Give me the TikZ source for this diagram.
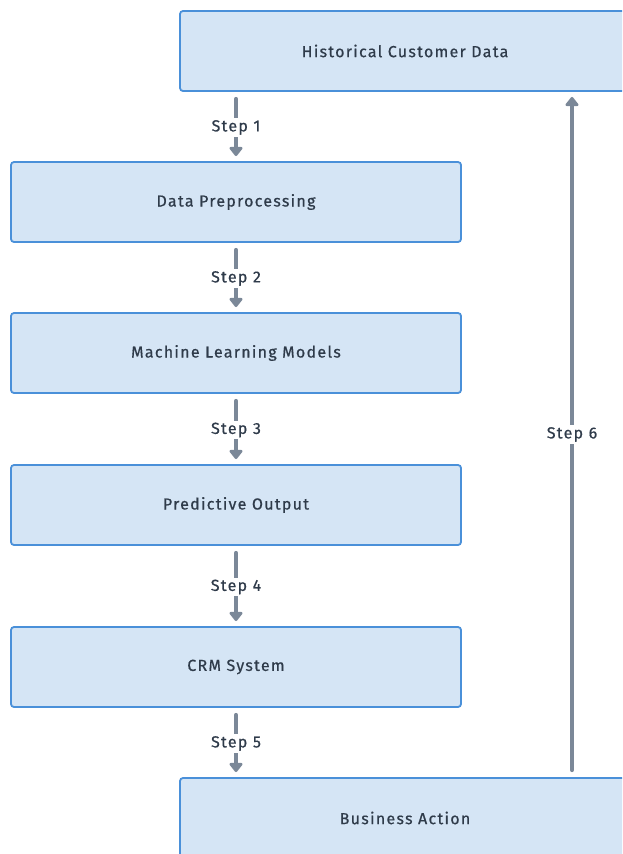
\documentclass[tikz,border=0pt]{standalone}
\usepackage{fontspec}
\setmainfont{Fira Sans}[LetterSpace=8,FakeBold=0.6]
\usetikzlibrary{arrows.meta,calc}
\definecolor{boxfill}{HTML}{D5E5F5}
\definecolor{boxline}{HTML}{4A90D9}
\definecolor{flow}{HTML}{7B8898}
\definecolor{ink}{HTML}{2F3B4A}
\begin{document}
\begin{tikzpicture}[x=1pt,y=-1pt,
  stage/.style={draw=boxline,fill=boxfill,line width=1.8pt,rounded corners=3pt,
    minimum width=450pt,minimum height=80pt,inner sep=0pt,
    font=\fontsize{16}{18}\selectfont,text=ink},
  flowline/.style={draw=flow,line width=4pt,line cap=round,
    -{Triangle[width=15pt,length=10pt,round]}},
  steplabel/.style={fill=white,inner sep=2pt,font=\fontsize{16}{18}\selectfont,text=ink}]
\useasboundingbox (0,0) rectangle (622,854);
\clip (0,0) rectangle (622,854);
\node[stage] (hist) at (405,51) {Historical Customer Data};
\node[stage] (prep) at (236,202) {Data Preprocessing};
\node[stage] (ml) at (236,353) {Machine Learning Models};
\node[stage] (pred) at (236,505) {Predictive Output};
\node[stage] (crm) at (236,667) {CRM System};
\node[stage] (biz) at (405,818) {Business Action};
\foreach \a/\b/\s in {hist/prep/1,prep/ml/2,ml/pred/3,pred/crm/4,crm/biz/5}{
  \draw[flowline,shorten <=7pt,shorten >=5pt] (236,0 |- \a.south) -- (236,0 |- \b.north)
    node[midway,yshift=-1pt,steplabel] {Step \s};
}
\draw[flowline,shorten <=7pt,shorten >=5pt] (572,0 |- biz.north) -- (572,0 |- hist.south)
  node[pos=0.5,steplabel] {Step 6};
\end{tikzpicture}
\end{document}
